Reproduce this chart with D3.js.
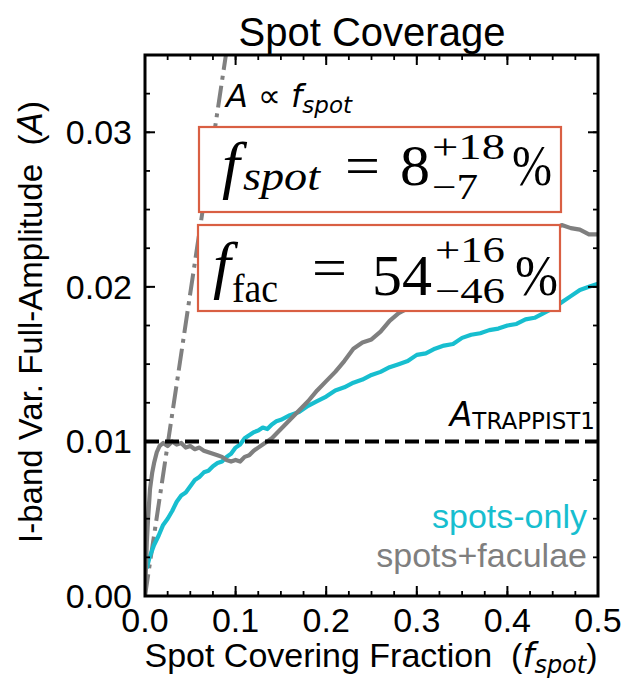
<!DOCTYPE html>
<html><head><meta charset="utf-8">
<script src="https://cdn.jsdelivr.net/npm/d3@7"></script>
<style>body{margin:0;background:#fff}</style>
</head><body><svg id="c" width="623" height="688"></svg>
<script>
// Axis ticks
const xTicks = [0, 0.1, 0.2, 0.3, 0.4, 0.5];
const yTicks = [0, 0.01, 0.02, 0.03];
const xMinor = d3.range(0, 0.5001, 0.025);
const yMinor = d3.range(0, 0.0351, 0.0025);

// Spots-only model: amplitude vs covering fraction
const fSpotsOnly = [0.002,0.005,0.010,0.015,0.020,0.025,0.030,0.035,0.040,0.045,0.050,0.055,0.060,0.065,0.070,0.075,0.080,0.085,0.090,0.095,0.100,0.105,0.110,0.115,0.120,0.125,0.130,0.135,0.140,0.145,0.150,0.160,0.170,0.180,0.190,0.200,0.210,0.220,0.230,0.240,0.250,0.260,0.270,0.280,0.290,0.300,0.310,0.320,0.330,0.340,0.350,0.360,0.370,0.380,0.390,0.400,0.410,0.420,0.430,0.440,0.450,0.460,0.470,0.480,0.490,0.500];
const ampSpotsOnly = [0.0018,0.0025,0.0033,0.0039,0.0046,0.0050,0.0055,0.0061,0.0065,0.0067,0.0071,0.0075,0.0077,0.0080,0.0081,0.0084,0.0086,0.0087,0.0090,0.0092,0.0096,0.0098,0.0102,0.0104,0.0106,0.0107,0.0109,0.0108,0.0111,0.0113,0.0114,0.0117,0.0119,0.0123,0.0126,0.0129,0.0133,0.0135,0.0138,0.0140,0.0143,0.0145,0.0148,0.0150,0.0152,0.0156,0.0157,0.0160,0.0162,0.0163,0.0167,0.0169,0.0170,0.0172,0.0173,0.0175,0.0176,0.0179,0.0180,0.0183,0.0186,0.0190,0.0194,0.0198,0.0200,0.0202];

// Spots + faculae model
const fFaculae = [0.000,0.002,0.0035,0.0055,0.008,0.010,0.013,0.016,0.020,0.025,0.030,0.035,0.040,0.045,0.050,0.055,0.060,0.065,0.070,0.075,0.080,0.085,0.090,0.095,0.100,0.105,0.110,0.115,0.120,0.125,0.130,0.140,0.150,0.160,0.170,0.180,0.190,0.200,0.210,0.220,0.230,0.240,0.250,0.260,0.270,0.280,0.290,0.300,0.350,0.400,0.440,0.460,0.470,0.480,0.490,0.500];
const ampFaculae = [0.0000,0.0035,0.0051,0.0069,0.0080,0.0086,0.0093,0.0097,0.0099,0.0097,0.0100,0.0098,0.0099,0.0096,0.0097,0.0095,0.0096,0.0094,0.0093,0.0092,0.0091,0.0090,0.0088,0.0087,0.0088,0.0087,0.0090,0.0091,0.0094,0.0096,0.0098,0.0102,0.0108,0.0114,0.0120,0.0126,0.0133,0.0139,0.0145,0.0152,0.0160,0.0164,0.0166,0.0171,0.0178,0.0183,0.0186,0.0190,0.0206,0.0222,0.0234,0.0240,0.0238,0.0237,0.0234,0.0234];

const trappistAmp = 0.01;     // observed TRAPPIST-1 amplitude
const propSlope = 0.392;      // A = k * f_spot reference line

const svg = d3.select("#c");
const m = {l:145, t:55, r:598, b:596};
const x = d3.scaleLinear().domain([0, 0.5]).range([m.l, m.r]);
const y = d3.scaleLinear().domain([0, 0.035]).range([m.b, m.t]);
const SANS = "'Liberation Sans', Arial, sans-serif";
const MATH = "'DejaVu Sans', sans-serif";
const SERIF = "'Liberation Serif', 'DejaVu Serif', serif";
const SP2 = "\u00A0\u00A0";

svg.append("defs").append("clipPath").attr("id","plot")
  .append("rect").attr("x", m.l).attr("y", m.t).attr("width", m.r-m.l).attr("height", m.b-m.t);

const g = svg.append("g").attr("clip-path","url(#plot)");
const line = d3.line().x(d => x(d[0])).y(d => y(d[1]));

// proportional reference line
g.append("path").datum([[0,0],[0.1,0.1*propSlope]]).attr("d", line)
  .attr("fill","none").attr("stroke","#808080").attr("stroke-width",4)
  .attr("stroke-dasharray","22,6,4,6");

g.append("path").datum(fSpotsOnly.map((f,i)=>[f, ampSpotsOnly[i]])).attr("d", line)
  .attr("fill","none").attr("stroke","#17becf").attr("stroke-width",4.2).attr("stroke-linejoin","round");
g.append("path").datum(fFaculae.map((f,i)=>[f, ampFaculae[i]])).attr("d", line)
  .attr("fill","none").attr("stroke","#7f7f7f").attr("stroke-width",4.2).attr("stroke-linejoin","round");

// TRAPPIST-1 amplitude
g.append("path").datum([[0,trappistAmp],[0.5,trappistAmp]]).attr("d", line)
  .attr("fill","none").attr("stroke","#000").attr("stroke-width",4).attr("stroke-dasharray","14,6");

// Result boxes
const boxes = [{x0:199,y0:127,x1:561,y1:212},{x0:198,y0:225,x1:560,y1:311}];
svg.selectAll("rect.box").data(boxes).join("rect").attr("class","box")
  .attr("x",d=>d.x0).attr("y",d=>d.y0).attr("width",d=>d.x1-d.x0).attr("height",d=>d.y1-d.y0)
  .attr("fill","#fff").attr("stroke","#d95f43").attr("stroke-width",2.2);

function piece(txt, px, py, size, style, w){
  const t = svg.append("text").attr("x",px).attr("y",py).attr("font-family",SERIF)
    .attr("font-size",size).attr("font-style",style||"normal").text(txt);
  if (w) t.attr("textLength", w).attr("lengthAdjust","spacingAndGlyphs");
  return t;
}
// f_spot = 8 +18 -7 %
piece("f", 222, 186, 64, "italic");
piece("spot", 243, 190, 40, "italic", 77);
piece("=", 345, 185, 56, null, 35);
piece("8", 400, 185, 56, null, 30);
piece("+18", 432, 159, 35, null, 73);
piece("\u22127", 432, 199, 35, null, 46);
piece("%", 512, 185, 56, null, 40);
// f_fac = 54 +16 -46 %
piece("f", 213, 286, 64, "italic");
piece("fac", 232, 302, 40, null, 46);
piece("=", 312, 287, 56, null, 35);
piece("54", 372, 295, 58, null, 60);
piece("+16", 435, 262, 35, null, 70);
piece("\u221246", 435, 303, 35, null, 70);
piece("%", 515, 295, 56, null, 43);

// Frame and ticks on all sides, pointing inward
const ax = svg.append("g").attr("stroke","#000");
function xt(vals, len, w){
  vals.forEach(v=>{
    const px = x(v);
    ax.append("line").attr("x1",px).attr("x2",px).attr("y1",m.b).attr("y2",m.b-len).attr("stroke-width",w);
    ax.append("line").attr("x1",px).attr("x2",px).attr("y1",m.t).attr("y2",m.t+len).attr("stroke-width",w);
  });
}
xt(xMinor, 5, 1.8); xt(xTicks, 10, 2);
function yt(vals, len, w){
  vals.forEach(v=>{
    const py = y(v);
    ax.append("line").attr("x1",m.l).attr("x2",m.l+len).attr("y1",py).attr("y2",py).attr("stroke-width",w);
    ax.append("line").attr("x1",m.r).attr("x2",m.r-len).attr("y1",py).attr("y2",py).attr("stroke-width",w);
  });
}
yt(yMinor, 5, 1.8); yt(yTicks, 10, 2);
ax.append("rect").attr("x",m.l).attr("y",m.t).attr("width",m.r-m.l).attr("height",m.b-m.t)
  .attr("fill","none").attr("stroke-width",3);

// Tick labels
svg.selectAll("text.xt").data(xTicks).join("text").attr("class","xt")
  .attr("x",d=>x(d)).attr("y",632).attr("text-anchor","middle")
  .attr("font-family",SANS).attr("font-size",34).text(d=>d.toFixed(1));
svg.selectAll("text.yt").data(yTicks).join("text").attr("class","yt")
  .attr("x",132).attr("y",d=>y(d)+12).attr("text-anchor","end")
  .attr("font-family",SANS).attr("font-size",34).text(d=>d.toFixed(2));

// Title
svg.append("text").attr("x",372).attr("y",46).attr("text-anchor","middle")
  .attr("font-family",SANS).attr("font-size",40).text("Spot Coverage");

// X label
const xl = svg.append("text").attr("x",371).attr("y",667).attr("text-anchor","middle")
  .attr("font-family",SANS).attr("font-size",34);
xl.append("tspan").text("Spot Covering Fraction" + SP2 + "(");
xl.append("tspan").attr("font-family",MATH).attr("font-style","italic").text("f");
xl.append("tspan").attr("font-family",MATH).attr("font-style","italic").attr("font-size",24).attr("dy",6).text("spot");
xl.append("tspan").attr("dy",-6).text(")");

// Y label
const yl = svg.append("text").attr("transform","translate(42,322) rotate(-90)").attr("text-anchor","middle")
  .attr("font-family",SANS).attr("font-size",33);
yl.append("tspan").text("I-band Var. Full-Amplitude" + SP2 + "(");
yl.append("tspan").attr("font-family",MATH).attr("font-style","italic").text("A");
yl.append("tspan").text(")");

// Proportional line label
const pl = svg.append("text").attr("x",226).attr("y",107).attr("font-family",MATH).attr("font-size",32);
pl.append("tspan").attr("font-style","italic").text("A");
pl.append("tspan").text(" \u221D ");
pl.append("tspan").attr("font-style","italic").text("f");
pl.append("tspan").attr("font-style","italic").attr("font-size",23).attr("dy",6).text("spot");

// TRAPPIST-1 label
const tl = svg.append("text").attr("x",595).attr("y",426).attr("text-anchor","end").attr("font-family",MATH).attr("font-size",33);
tl.append("tspan").attr("font-style","italic").text("A");
tl.append("tspan").attr("font-size",23).attr("dy",3).text("TRAPPIST1");

// Legend
svg.append("text").attr("x",587).attr("y",528).attr("text-anchor","end").attr("font-family",SANS)
  .attr("font-size",34).attr("fill","#17becf").text("spots-only");
svg.append("text").attr("x",587).attr("y",567).attr("text-anchor","end").attr("font-family",SANS)
  .attr("font-size",34).attr("fill","#7f7f7f").text("spots+faculae");
</script></body></html>
